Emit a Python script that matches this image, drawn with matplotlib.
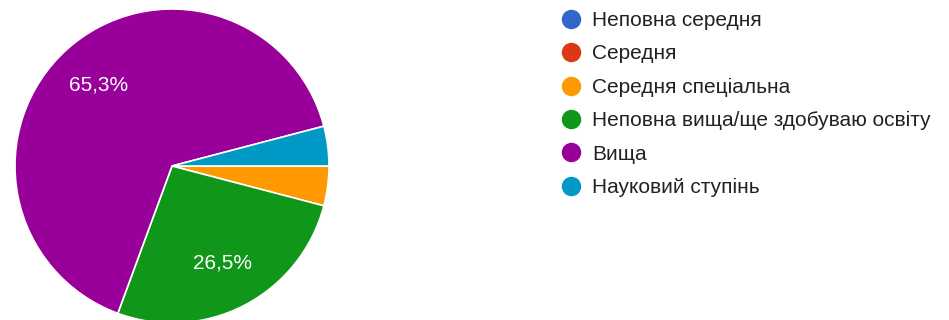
import matplotlib.pyplot as plt
from matplotlib.lines import Line2D

plt.rcParams['font.family'] = ['Liberation Sans', 'DejaVu Sans']

# education level survey answers (49 responses)
categories = ['Неповна середня', 'Середня', 'Середня спеціальна',
              'Неповна вища/ще здобуваю освіту', 'Вища', 'Науковий ступінь']
counts = [0, 0, 2, 13, 32, 2]
colors = ['#3366cc', '#dc3912', '#ff9900', '#109618', '#990099', '#0099c6']

W, H = 949, 320
fig = plt.figure(figsize=(W / 100, H / 100), dpi=100)

# pie: centre (172, 166) px, radius 157 px
cx, cy, r = 172, 166, 157
ax = fig.add_axes([(cx - r) / W, (H - cy - r) / H, 2 * r / W, 2 * r / H])


def pct_label(p):
    # google hides labels on the thin slices
    if p < 10:
        return ''
    return f'{p:.1f}%'.replace('.', ',')


wedges, texts, autotexts = ax.pie(
    counts, colors=colors, startangle=0, counterclock=False,
    autopct=pct_label, pctdistance=0.7, radius=1,
    wedgeprops=dict(edgecolor='white', linewidth=1.2),
    textprops=dict(color='white', fontsize=15))
ax.set_xlim(-1, 1)
ax.set_ylim(-1, 1)
ax.set_aspect('equal')
ax.axis('off')

handles = [Line2D([], [], marker='o', linestyle='', markersize=13,
                  markerfacecolor=c, markeredgecolor=c) for c in colors]
fig.legend(handles, categories, loc='upper left',
           bbox_to_anchor=(560.5 / W, 1 - 11 / H), frameon=False,
           fontsize=15, labelspacing=0.69, handlelength=1.0,
           handletextpad=0.5, borderpad=0, borderaxespad=0,
           labelcolor='#222222')

fig.savefig('out.png', dpi=100)
